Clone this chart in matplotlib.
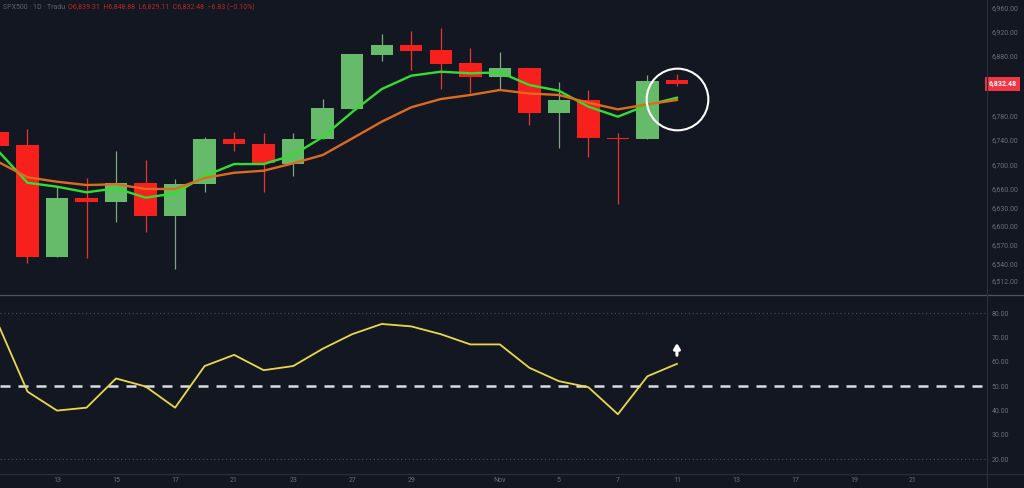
import matplotlib
matplotlib.use("Agg")
import matplotlib.pyplot as plt
import matplotlib.transforms as mtransforms
from matplotlib.ticker import NullLocator, FixedLocator
from matplotlib.lines import Line2D
import numpy as np
import pandas as pd

plt.rcParams['font.family'] = ['Roboto', 'DejaVu Sans']

# ---------------- data ----------------
start_date = "2025-10-09"
end_date = "2025-11-21"
candle_dates = ["2025-10-09", "2025-10-10", "2025-10-13", "2025-10-14", "2025-10-15",
                "2025-10-16", "2025-10-17", "2025-10-20", "2025-10-21", "2025-10-22",
                "2025-10-23", "2025-10-24", "2025-10-27", "2025-10-28", "2025-10-29",
                "2025-10-30", "2025-10-31", "2025-11-03", "2025-11-04", "2025-11-05",
                "2025-11-06", "2025-11-07", "2025-11-10", "2025-11-11"]
opens = [6753.3, 6731.5, 6550.7, 6644.6, 6639.1, 6668.8, 6616.6, 6667.7, 6741.3, 6733.6,
         6699.8, 6740.8, 6790.8, 6881.2, 6897.0, 6889.1, 6866.8, 6843.4, 6859.5, 6783.7,
         6805.7, 6743.0, 6740.8, 6839.31]
highs = [6756.0, 6758.0, 6663.4, 6678.0, 6722.0, 6706.8, 6675.4, 6745.0, 6752.3, 6750.6,
         6750.6, 6806.8, 6883.0, 6915.5, 6921.6, 6925.7, 6892.0, 6885.8, 6859.5, 6836.1,
         6822.3, 6751.6, 6847.3, 6848.88]
lows = [6725.0, 6541.0, 6550.0, 6548.0, 6606.8, 6590.7, 6530.6, 6655.3, 6721.6, 6654.3,
        6681.3, 6740.8, 6790.0, 6871.2, 6855.6, 6824.0, 6817.8, 6824.0, 6764.3, 6727.0,
        6712.3, 6635.4, 6740.8, 6829.11]
closes = [6730.3, 6550.7, 6644.6, 6639.1, 6668.8, 6616.6, 6667.7, 6741.8, 6733.6, 6701.5,
          6741.8, 6791.9, 6881.9, 6897.0, 6887.9, 6866.1, 6843.4, 6859.5, 6783.7, 6805.7,
          6742.4, 6740.8, 6837.8, 6832.48]
ma_fast = [6722.1, 6669.8, 6663.4, 6654.3, 6660.8, 6645.6, 6652.7, 6680.8, 6700.3, 6700.3,
           6715.0, 6744.6, 6785.8, 6823.9, 6846.1, 6852.8, 6850.1, 6851.8, 6830.6, 6821.1,
           6794.6, 6778.1, 6797.4, 6809.5]
ma_slow = [6704.1, 6678.7, 6671.5, 6666.1, 6667.3, 6659.7, 6659.7, 6677.5, 6686.1, 6689.4,
           6701.5, 6715.0, 6742.2, 6769.8, 6793.6, 6807.3, 6814.0, 6822.3, 6816.5, 6814.0,
           6801.2, 6790.2, 6798.5, 6805.7]
rsi = [75.6, 47.7, 39.9, 41.1, 53.1, 49.8, 41.1, 58.2, 62.8, 56.5, 58.2, 65.3,
       71.3, 75.5, 74.5, 71.3, 67.1, 67.1, 57.5, 52.0, 49.5, 38.4, 54.0, 59.1]

price_ticks = [6512, 6540, 6570, 6600, 6630, 6660, 6700, 6740, 6780, 6880, 6920, 6960]
rsi_ticks = [20, 30, 40, 50, 60, 70, 80]
xtick_dates = ["2025-10-13", "2025-10-15", "2025-10-17", "2025-10-21", "2025-10-23",
               "2025-10-27", "2025-10-29", "2025-11-03", "2025-11-05", "2025-11-07",
               "2025-11-11", "2025-11-13", "2025-11-17", "2025-11-19", "2025-11-21"]
xtick_labels = ["13", "15", "17", "21", "23", "27", "29", "Nov", "5", "7",
                "11", "13", "17", "19", "21"]
last_price = 6832.48
header_left = "SPX500 · 1D · Tradu"
header_right = "O6,839.31  H6,848.88  L6,829.11  C6,832.48  −6.83 (−0.10%)"

# ---------------- styling ----------------
BG = "#131722"
UP = "#66bb6a"
DOWN = "#f7201c"
TXT = "#6a6d78"
FAST = "#35dc35"
SLOW = "#df6a1f"
RSI_C = "#e9d94a"

calendar = pd.bdate_range(start_date, end_date)
idx = calendar.get_indexer(pd.to_datetime(candle_dates))
xt = calendar.get_indexer(pd.to_datetime(xtick_dates))

W, H = 1024, 488
fig = plt.figure(figsize=(W / 100, H / 100), dpi=100, facecolor=BG)
plot_w = 986 / W
ax = fig.add_axes([0, (H - 294) / H, plot_w, 294 / H], facecolor=BG)
ax2 = fig.add_axes([0, (H - 473) / H, plot_w, 178 / H], facecolor=BG, sharex=ax)

# candles
o = np.array(opens); c = np.array(closes); hi = np.array(highs); lo = np.array(lows)
up = c >= o
colors = np.where(up, UP, DOWN)
wick_colors = np.where(up, "#7fa683", "#e8352f")
ax.vlines(idx, lo, hi, colors=wick_colors, lw=0.9, zorder=2)
bottoms = np.minimum(o, c)
heights = np.maximum(np.abs(c - o), 0.6)
ax.bar(idx, heights, bottom=bottoms, width=0.76, color=colors, linewidth=0, zorder=3)

ax.plot(idx, ma_fast, color=FAST, lw=1.7, zorder=4, solid_joinstyle='round')
ax.plot(idx, ma_slow, color=SLOW, lw=1.7, zorder=5, solid_joinstyle='round')

# highlight circle around last candle
ax.plot([idx[-1]], [6806.9], marker='o', ms=44.4, mfc='none', mec='white', mew=1.5,
        zorder=6)

ax.set_yscale('log')
ax.set_ylim(6491.4, 6973.6)
ax.set_xlim(0.069, 33.47)
ax.yaxis.tick_right()
ax.yaxis.set_major_locator(FixedLocator(price_ticks))
ax.yaxis.set_minor_locator(NullLocator())
ax.set_yticklabels([f"{v:,.2f}" for v in price_ticks])
ax.tick_params(axis='y', length=0, pad=4, labelsize=5, labelcolor=TXT)
ax.tick_params(axis='x', length=0, labelbottom=False)
for s in ax.spines.values():
    s.set_visible(False)

# last price tag
trans = mtransforms.blended_transform_factory(ax.transAxes, ax.transData)
ax.text(1.0025, last_price, f"{last_price:,.2f}", transform=trans, ha='left', va='center',
        fontsize=5, color='white', fontweight='bold',
        bbox=dict(boxstyle='square,pad=0.45', fc='#f23645', ec='none'), zorder=10,
        clip_on=False)

# RSI pane
ax2.plot(idx, rsi, color=RSI_C, lw=1.3, zorder=3)
ax2.axhline(50, color='#d8dbe2', lw=1.8, linestyle=(0, (4.0, 3.2)), zorder=2)
ax2.axhline(80, color='#4a4e5a', lw=0.8, linestyle=(0, (1, 2.5)), zorder=1)
ax2.axhline(20, color='#4a4e5a', lw=0.8, linestyle=(0, (1, 2.5)), zorder=1)
ax2.annotate('', xy=(idx[-1], 68.8), xytext=(idx[-1], 61.5),
             arrowprops=dict(arrowstyle='-|>,head_length=0.3,head_width=0.18',
                             color='white', lw=2.2), zorder=6)
ax2.set_ylim(14.25, 87.4)
ax2.yaxis.tick_right()
ax2.set_yticks(rsi_ticks)
ax2.set_yticklabels([f"{v:.2f}" for v in rsi_ticks])
ax2.tick_params(axis='y', length=0, pad=4, labelsize=5, labelcolor=TXT)
ax2.set_xticks(xt)
ax2.set_xticklabels(xtick_labels)
ax2.tick_params(axis='x', length=0, pad=3, labelsize=5, labelcolor=TXT)
for s in ax2.spines.values():
    s.set_visible(False)

# separators
fig.add_artist(Line2D([0, 1], [(H - 294.5) / H] * 2, color='#50535e', lw=0.9))
fig.add_artist(Line2D([0, 1], [(H - 473.5) / H] * 2, color='#2a2e39', lw=0.9))
fig.add_artist(Line2D([plot_w + 0.5 / W] * 2, [0, 1], color='#2a2e39', lw=0.9))

# header
fig.text(3 / W, 1 - 7.5 / H, header_left, fontsize=5, color='#5d606b', va='center')
fig.text(68 / W, 1 - 7.5 / H, header_right, fontsize=5, color='#b8262c', va='center')

fig.savefig("out.png", dpi=100, facecolor=BG)
